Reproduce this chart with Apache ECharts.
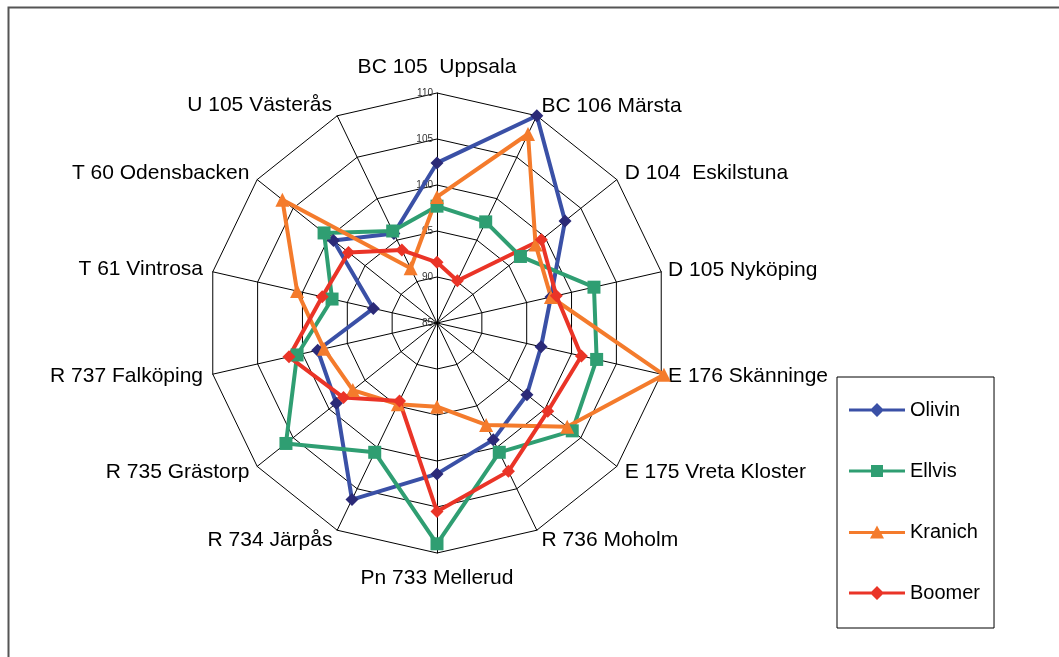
<!DOCTYPE html>
<html>
<head>
<meta charset="utf-8">
<script src="https://cdn.jsdelivr.net/npm/echarts@6/dist/echarts.min.js"></script>
<style>
html,body{margin:0;padding:0;background:#fff;}
#c{width:1059px;height:657px;}
</style>
</head>
<body>
<div id="c"></div>
<script>
// Categories listed clockwise starting from the top
const categories = ['BC 105  Uppsala','BC 106 Märsta','D 104  Eskilstuna','D 105 Nyköping','E 176 Skänninge','E 175 Vreta Kloster','R 736 Moholm','Pn 733 Mellerud','R 734 Järpås','R 735 Grästorp','R 737 Falköping','T 61 Vintrosa','T 60 Odensbacken','U 105 Västerås'];
const seriesNames = ['Olivin','Ellvis','Kranich','Boomer'];
const olivin  = [102.4, 110.0, 102.8, 97.7, 96.6, 97.5, 99.1, 101.4, 106.3, 99.0, 98.3, 92.1, 99.4, 95.8];
const ellvis  = [97.7, 97.2, 96.6, 102.5, 102.8, 103.8, 100.6, 109.0, 100.6, 106.0, 100.6, 96.7, 100.7, 96.1];
const kranich = [98.7, 107.8, 98.7, 97.7, 110.3, 103.1, 97.3, 94.1, 94.8, 96.7, 97.6, 100.6, 106.5, 91.6];
const boomer  = [91.6, 90.1, 99.5, 98.3, 101.1, 100.4, 102.9, 105.5, 94.4, 98.0, 101.5, 97.8, 97.3, 93.8];
const axisMin = 85, axisMax = 110, axisSplits = 5;

const lineColors = ['#3a50a6','#2f9e72','#f47b2c','#ea3427'];
const markColors = ['#2b2a78','#2f9e72','#f47b2c','#ea3427'];
const symbols = ['diamond','rect','triangle','diamond'];
const symbolSizes = [13, 13, 14, 13];
const legendIcons = [
  'path://M0,5.5L22.5,5.5L28,0L33.5,5.5L56,5.5L56,8.5L33.5,8.5L28,14L22.5,8.5L0,8.5Z',
  'path://M0,5.5H22V1H34V5.5H56V8.5H34V13H22V8.5H0Z',
  'path://M0,5.5H25.04L28,0L30.96,5.5H56V8.5H32.58L35,13H21L23.42,8.5H0Z',
  'path://M0,5.5L22.5,5.5L28,0L33.5,5.5L56,5.5L56,8.5L33.5,8.5L28,14L22.5,8.5L0,8.5Z'
];
const allValues = [olivin, ellvis, kranich, boomer];
// gap between polygon and label for each category (clockwise order)
const nameGaps = [15, 11, 10, 7, 7, 10, 11, 15, 11, 10, 10, 10, 10, 12];

// ECharts radar runs counter-clockwise: map to clockwise order
const n = categories.length;
const order = [0].concat(Array.from({length: n - 1}, (_, k) => n - 1 - k));

const FONT = 'Arial, "Liberation Sans", sans-serif';
const chart = echarts.init(document.getElementById('c'), null, {renderer:'canvas'});

const indicators = order.map((idx, j) => {
  const o = {name: categories[idx], min: axisMin, max: axisMax, nameGap: nameGaps[idx]};
  if (j === 0) o.axisLabel = {show: true};
  return o;
});

const option = {
  animation: false,
  backgroundColor: '#fff',
  graphic: [{
    type: 'rect', left: 6, top: 5,
    shape: {width: 1200, height: 800},
    style: {fill: 'none', stroke: '#555', lineWidth: 2},
    silent: true, z: -1
  }],
  legend: {
    orient: 'vertical',
    left: 837, top: 377,
    padding: [23, 14, 25, 12],
    itemWidth: 56, itemHeight: 14,
    itemGap: 41,
    itemTextGap: 4,
    borderColor: '#000', borderWidth: 1,
    textStyle: {fontSize: 20, color: '#000', fontFamily: FONT},
    data: seriesNames.map((nm, i) => ({name: nm, icon: legendIcons[i], itemStyle: {color: lineColors[i]}}))
  },
  radar: {
    center: [437, 323],
    radius: 230,
    startAngle: 90,
    shape: 'polygon',
    splitNumber: axisSplits,
    nameGap: 10,
    axisName: {color: '#000', fontSize: 21, fontFamily: FONT},
    axisLine: {lineStyle: {color: '#000', width: 1}},
    splitLine: {lineStyle: {color: '#000', width: 1}},
    splitArea: {show: false},
    axisTick: {show: false},
    axisLabel: {show: false, color: '#333', fontSize: 10, fontFamily: FONT, margin: 4},
    indicator: indicators
  },
  series: seriesNames.map((nm, i) => ({
    type: 'radar',
    name: nm,
    symbol: symbols[i],
    symbolSize: symbolSizes[i],
    itemStyle: {color: markColors[i], borderWidth: 0},
    lineStyle: {color: lineColors[i], width: 4},
    emphasis: {disabled: true},
    data: [{value: order.map(idx => allValues[i][idx]), name: nm}]
  }))
};
chart.setOption(option);
</script>
</body>
</html>
